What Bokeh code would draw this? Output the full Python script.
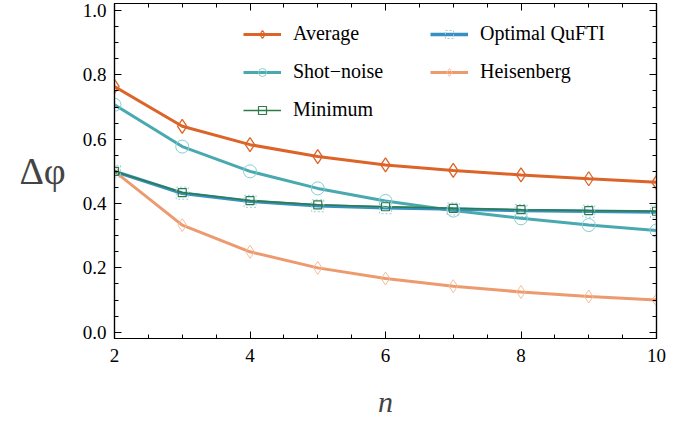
from bokeh.plotting import figure
from bokeh.models import (Range1d, SingleIntervalTicker, LinearAxis, Legend, LegendItem,
                          CustomJSTickFormatter)
from bokeh.embed import file_html
from bokeh.resources import INLINE

n_values = [2, 3, 4, 5, 6, 7, 8, 9, 10]
average = [0.764, 0.640, 0.583, 0.546, 0.520, 0.503, 0.489, 0.477, 0.466]
shot_noise = [0.707, 0.577, 0.500, 0.447, 0.408, 0.378, 0.354, 0.333, 0.316]
minimum = [0.500, 0.434, 0.409, 0.396, 0.390, 0.385, 0.381, 0.378, 0.376]
optimal_qufti = [0.500, 0.432, 0.407, 0.393, 0.387, 0.383, 0.378, 0.376, 0.374]
heisenberg = [0.500, 0.333, 0.250, 0.200, 0.167, 0.143, 0.125, 0.111, 0.100]

FONT = "Liberation Serif"

p = figure(width=690, height=427, output_backend="svg", toolbar_location=None,
           x_range=Range1d(2, 10), y_range=Range1d(-0.0196, 1.0218),
           min_border_left=114, min_border_right=34, min_border_top=3,
           min_border_bottom=89)
p.xgrid.visible = False
p.ygrid.visible = False
p.outline_line_color = "black"
p.outline_line_width = 1.2

xt = SingleIntervalTicker(interval=2, num_minor_ticks=4)
yt = SingleIntervalTicker(interval=0.2, num_minor_ticks=4)

def style_axis(ax, labels=True):
    ax.major_tick_in = 7
    ax.major_tick_out = 0
    ax.minor_tick_in = 4
    ax.minor_tick_out = 0
    ax.axis_line_color = "black"
    ax.axis_line_width = 1.2
    ax.major_tick_line_color = "black"
    ax.minor_tick_line_color = "black"
    if labels:
        ax.major_label_text_font = FONT
        ax.major_label_text_font_size = "19px"
        ax.major_label_text_color = "black"
    else:
        ax.formatter = CustomJSTickFormatter(code="return '';")
        ax.major_label_standoff = 0

p.xaxis.ticker = xt
p.yaxis.ticker = yt
style_axis(p.xaxis[0])
style_axis(p.yaxis[0])
p.xaxis.major_label_standoff = 10
p.yaxis.major_label_standoff = 8
p.yaxis.formatter = CustomJSTickFormatter(code="return tick.toFixed(1);")

p.xaxis.axis_label = "n"
p.xaxis.axis_label_text_font = FONT
p.xaxis.axis_label_text_font_style = "italic"
p.xaxis.axis_label_text_font_size = "30px"
p.xaxis.axis_label_standoff = 20
p.yaxis.axis_label = "Δφ"
p.yaxis.axis_label_text_font = FONT
p.yaxis.axis_label_text_font_style = "normal"
p.yaxis.axis_label_text_font_size = "38px"
p.yaxis.axis_label_standoff = 14
p.yaxis.axis_label_orientation = "horizontal"

top_ax = LinearAxis(ticker=xt)
right_ax = LinearAxis(ticker=yt)
style_axis(top_ax, labels=False)
style_axis(right_ax, labels=False)
p.add_layout(top_ax, "above")
p.add_layout(right_ax, "right")

c_avg = "#dc6428"
c_shot = "#4aa9b0"
c_min = "#2e7b47"
c_opt = "#3690c0"
c_heis = "#ec9a6e"

l_heis = p.line(n_values, heisenberg, line_color=c_heis, line_width=3)
l_avg = p.line(n_values, average, line_color=c_avg, line_width=3)
l_shot = p.line(n_values, shot_noise, line_color=c_shot, line_width=3)
l_opt = p.line(n_values, optimal_qufti, line_color=c_opt, line_width=3.5)
l_min = p.line(n_values, minimum, line_color=c_min, line_width=1.5)

s_heis = p.scatter(n_values, heisenberg, marker="diamond", size=13, fill_alpha=0,
                   line_color="#f6bd9c", line_width=1)
s_avg = p.scatter(n_values, average, marker="diamond", size=14, fill_alpha=0,
                  line_color=c_avg, line_width=1.3)
s_shot = p.scatter(n_values, shot_noise, marker="circle", size=13, fill_alpha=0,
                   line_color="#86cdd2", line_width=1)
s_opt = p.scatter(n_values, optimal_qufti, marker="square", size=12, fill_alpha=0,
                  line_color="#9ecae1", line_width=1, line_dash="2 2")
s_min = p.scatter(n_values, minimum, marker="square", size=8, fill_alpha=0,
                  line_color=c_min, line_width=1.2)

def make_legend(items, loc):
    lg = Legend(items=items, location=loc, orientation="vertical")
    lg.label_text_font = FONT
    lg.label_text_font_size = "20px"
    lg.label_text_color = "black"
    lg.glyph_width = 38
    lg.glyph_height = 20
    lg.label_height = 20
    lg.label_standoff = 12
    lg.spacing = 15
    lg.padding = 0
    lg.margin = 0
    lg.border_line_alpha = 0
    lg.background_fill_alpha = 0
    return lg

leg1 = make_legend([
    LegendItem(label="Average", renderers=[l_avg, s_avg]),
    LegendItem(label="Shot\u2212noise", renderers=[l_shot, s_shot]),
    LegendItem(label="Minimum", renderers=[l_min, s_min]),
], (129, 217))
leg2 = make_legend([
    LegendItem(label="Optimal QuFTI", renderers=[l_opt, s_opt]),
    LegendItem(label="Heisenberg", renderers=[l_heis, s_heis]),
], (316, 255))
p.add_layout(leg1, "center")
p.add_layout(leg2, "center")

open("out.html", "w").write(file_html(p, INLINE))
